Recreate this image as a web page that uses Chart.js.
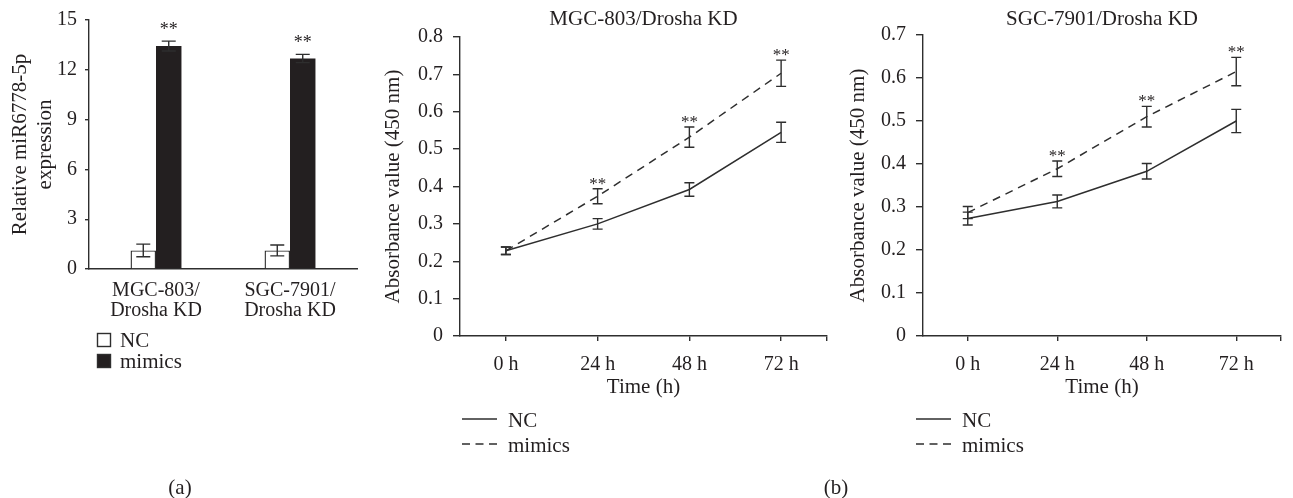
<!DOCTYPE html>
<html>
<head>
<meta charset="utf-8">
<script src="https://cdn.jsdelivr.net/npm/chart.js@4"></script>
<style>
  body { margin: 0; background: #fff; width: 1293px; height: 498px; overflow: hidden; position: relative;
         font-family: "Liberation Serif", "Times New Roman", serif; color: #231f20; }
  .box { position: absolute; top: 0; height: 480px; }
  .tag { position: absolute; top: 476px; font-size: 21px; line-height: 23px; transform: translateX(-50%); }
</style>
</head>
<body>
<div class="box" style="left:0;width:370px"><canvas id="chartA"></canvas></div>
<div class="box" style="left:370px;width:470px"><canvas id="chartB1"></canvas></div>
<div class="box" style="left:840px;width:453px"><canvas id="chartB2"></canvas></div>
<div class="tag" style="left:180px">(a)</div>
<div class="tag" style="left:836px">(b)</div>
<script>
var ink = "#231f20";
var stroke = "#2e2e2e";
var serif = "'Liberation Serif', 'Times New Roman', serif";

// (a) relative expression
var barCategories = [["MGC-803/", "Drosha KD"], ["SGC-7901/", "Drosha KD"]];
var barNC = [1.12, 1.12];
var barNCErr = [0.38, 0.33];
var barMimics = [13.43, 12.68];
var barMimicsErr = [0.3, 0.25];
var barMimicsStars = [true, true];

// (b) absorbance over time
var timeLabels = ["0 h", "24 h", "48 h", "72 h"];
var mgcNC = [0.228, 0.3, 0.392, 0.545];
var mgcNCErr = [0.01, 0.014, 0.018, 0.027];
var mgcMimics = [0.228, 0.374, 0.532, 0.703];
var mgcMimicsErr = [0.01, 0.02, 0.027, 0.035];
var mgcStars = [false, true, true, true];
var sgcNC = [0.273, 0.313, 0.383, 0.5];
var sgcNCErr = [0.015, 0.015, 0.018, 0.027];
var sgcMimics = [0.287, 0.389, 0.51, 0.615];
var sgcMimicsErr = [0.014, 0.018, 0.024, 0.033];
var sgcStars = [false, true, true, true];

Chart.defaults.font.family = serif;
Chart.defaults.font.size = 20;
Chart.defaults.color = ink;
Chart.defaults.animation = false;

// error bars, stars, panel title and legend
var extras = {
  id: "extras",
  afterDraw: function (chart, args, opts) {
    var ctx = chart.ctx;
    var ys = chart.scales.y;
    ctx.save();
    ctx.strokeStyle = stroke;
    ctx.lineWidth = 1.4;
    opts.errors.forEach(function (errs, di) {
      var meta = chart.getDatasetMeta(di);
      var vals = chart.data.datasets[di].data;
      meta.data.forEach(function (el, i) {
        var v = typeof vals[i] === "object" ? vals[i].y : vals[i];
        var top = ys.getPixelForValue(v + errs[i]);
        var bot = ys.getPixelForValue(v - errs[i]);
        ctx.beginPath();
        ctx.moveTo(el.x, top); ctx.lineTo(el.x, bot);
        ctx.moveTo(el.x - opts.cap, top); ctx.lineTo(el.x + opts.cap, top);
        ctx.moveTo(el.x - opts.cap, bot); ctx.lineTo(el.x + opts.cap, bot);
        ctx.stroke();
        if (opts.stars[di] && opts.stars[di][i]) {
          ctx.fillStyle = ink;
          ctx.font = opts.starSize + "px " + serif;
          ctx.textAlign = "center";
          ctx.textBaseline = "alphabetic";
          ctx.fillText("**", el.x, top - opts.starGap);
        }
      });
    });

    ctx.fillStyle = ink;
    ctx.font = "21px " + serif;
    ctx.textBaseline = "alphabetic";
    if (opts.title) {
      ctx.textAlign = "center";
      ctx.fillText(opts.title, (chart.chartArea.left + chart.chartArea.right) / 2, 25);
    }

    var lg = opts.legend;
    ctx.textAlign = "left";
    lg.items.forEach(function (it, i) {
      var b = lg.y[i];
      ctx.beginPath();
      if (lg.kind === "box") {
        ctx.setLineDash([]);
        ctx.fillStyle = it.fill;
        ctx.fillRect(lg.x, b - 14, 14, 14);
        ctx.strokeRect(lg.x + 0.5, b - 13.5, 13, 13);
        ctx.fillStyle = ink;
        ctx.fillText(it.label, lg.x + 23, b);
      } else {
        ctx.setLineDash(it.dash);
        ctx.moveTo(lg.x, b - 8);
        ctx.lineTo(lg.x + 35, b - 8);
        ctx.stroke();
        ctx.setLineDash([]);
        ctx.fillText(it.label, lg.x + 46, b);
      }
    });
    ctx.restore();
  }
};

new Chart(document.getElementById("chartA"), {
  type: "bar",
  data: {
    labels: barCategories,
    datasets: [
      { label: "NC", data: barNC, backgroundColor: "#ffffff", borderColor: stroke, borderWidth: 1.4 },
      { label: "mimics", data: barMimics, backgroundColor: ink, borderWidth: 0 },
    ],
  },
  options: {
    responsive: true,
    maintainAspectRatio: false,
    layout: { padding: { left: 0, top: 18, right: 13, bottom: 80 } },
    datasets: { bar: { barPercentage: 1, categoryPercentage: 0.38 } },
    plugins: {
      legend: { display: false },
      tooltip: { enabled: false },
      extras: {
        errors: [barNCErr, barMimicsErr],
        stars: [null, barMimicsStars],
        cap: 7,
        starSize: 18,
        starGap: 6,
        legend: {
          kind: "box", x: 97, y: [347, 368],
          items: [{ label: "NC", fill: "#ffffff" }, { label: "mimics", fill: ink }],
        },
      },
    },
    scales: {
      x: {
        grid: { drawOnChartArea: false, drawTicks: false },
        border: { color: stroke, width: 1.4 },
        ticks: { padding: 12, font: { lineHeight: 1.0 } },
        afterFit: function (s) { s.height = 131; },
      },
      y: {
        min: 0,
        max: 15,
        ticks: { stepSize: 3, padding: 8 },
        grid: { drawOnChartArea: false, tickLength: 4, color: stroke, lineWidth: 1.4 },
        border: { color: stroke, width: 1.4 },
        title: {
          display: true,
          text: ["Relative miR6778-5p", "expression"],
          padding: { top: 8, bottom: 0 },
          font: { size: 21, lineHeight: 1.2 },
        },
        afterFit: function (s) { s.width = 89; },
      },
    },
  },
  plugins: [extras],
});

function lineChart(id, title, nc, ncErr, mimics, mimicsErr, stars, yMax, geo) {
  var pts = function (arr) { return arr.map(function (v, i) { return { x: i, y: v }; }); };
  var tickValues = [-0.5].concat(timeLabels.map(function (t, i) { return i; }), [timeLabels.length - 0.5]);
  return new Chart(document.getElementById(id), {
    type: "line",
    data: {
      datasets: [
        { label: "NC", data: pts(nc), borderColor: stroke, borderWidth: 1.5, pointRadius: 0 },
        { label: "mimics", data: pts(mimics), borderColor: stroke, borderWidth: 1.5, borderDash: [8, 6], pointRadius: 0 },
      ],
    },
    options: {
      responsive: true,
      maintainAspectRatio: false,
      layout: { padding: { left: 0, top: geo.top, right: geo.right, bottom: 80 } },
      plugins: {
        legend: { display: false },
        tooltip: { enabled: false },
        extras: {
          title: title,
          errors: [ncErr, mimicsErr],
          stars: [null, stars],
          cap: 5,
          starSize: 17,
          starGap: 0,
          legend: {
            kind: "line", x: geo.legendX, y: [427, 452],
            items: [{ label: "NC", dash: [] }, { label: "mimics", dash: [8, 5.5] }],
          },
        },
      },
      scales: {
        x: {
          type: "linear",
          min: -0.5,
          max: timeLabels.length - 0.5,
          afterBuildTicks: function (s) { s.ticks = tickValues.map(function (v) { return { value: v }; }); },
          ticks: { padding: 12, callback: function (v) { return timeLabels[v] || ""; } },
          grid: {
            drawOnChartArea: false,
            tickLength: 5,
            lineWidth: 1.4,
            tickColor: function (c) { return c.index === 0 ? "rgba(0,0,0,0)" : stroke; },
          },
          border: { color: stroke, width: 1.4 },
          title: { display: true, text: "Time (h)", padding: { top: 0, bottom: 0 }, font: { size: 21 } },
          afterFit: function (s) { s.height = 64; },
        },
        y: {
          min: 0,
          max: yMax,
          ticks: { stepSize: 0.1, padding: 10 },
          grid: { drawOnChartArea: false, tickLength: 7, color: stroke, lineWidth: 1.4 },
          border: { color: stroke, width: 1.4 },
          title: { display: true, text: "Absorbance value (450 nm)", padding: { top: geo.titlePad, bottom: 0 }, font: { size: 21 } },
          afterFit: function (s) { s.width = geo.axisWidth; },
        },
      },
    },
    plugins: [extras],
  });
}

lineChart("chartB1", "MGC-803/Drosha KD", mgcNC, mgcNCErr, mgcMimics, mgcMimicsErr, mgcStars, 0.8,
  { top: 37, right: 13, axisWidth: 90, titlePad: 11, legendX: 92 });
lineChart("chartB2", "SGC-7901/Drosha KD", sgcNC, sgcNCErr, sgcMimics, sgcMimicsErr, sgcStars, 0.7,
  { top: 35, right: 3, axisWidth: 83, titlePad: 6, legendX: 76 });
</script>
</body>
</html>
